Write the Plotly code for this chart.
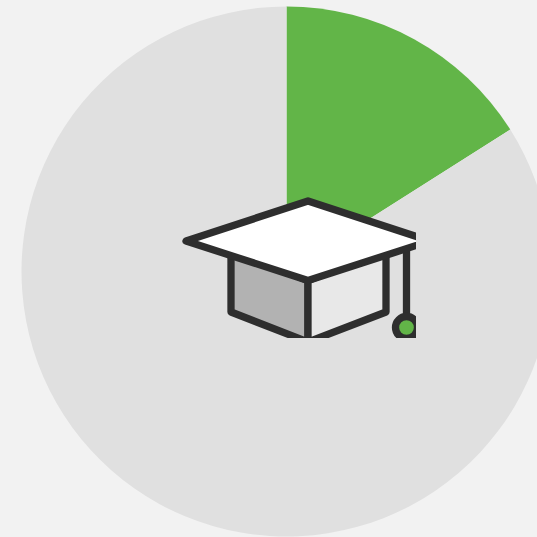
import plotly.graph_objects as go

# Share shown in the ring of the pie
labels = ["Highlighted", "Remaining"]
values = [16, 84]
slice_colors = ["#62b548", "#e0e0e0"]

PAGE_BG = "#f2f2f2"
INK = "#2e2e2e"
STROKE = 7.3
WIDTH, HEIGHT = 552, 537
ICON_W, ICON_H = 416, 338


def poly(points, fill=None, close=True):
    d = "M" + " L".join(f"{x},{y}" for x, y in points) + (" Z" if close else "")
    return dict(
        type="path", xref="x", yref="y", layer="above", path=d,
        fillcolor=fill if fill else "rgba(0,0,0,0)",
        line=dict(color=INK, width=STROKE),
    )


# Graduation cap, in icon units on a hidden pair of axes that clip its edges
left_face = [(231, 250), (308, 280.5), (308, 342), (231, 312)]
right_face = [(386, 250), (308, 280.5), (308, 342), (386, 312)]
board = [(186, 241), (308, 201), (430, 241), (308, 280.5)]
tassel = [(406.5, 240), (406.5, 320)]

shapes = [
    poly(left_face, "#b2b2b2"),
    poly(right_face, "#e8e8e8"),
    poly(tassel, close=False),
    poly(board, "#ffffff"),
    dict(type="circle", xref="x", yref="y", layer="above",
         x0=395.5, x1=417.5, y0=316.5, y1=338.5,
         fillcolor=slice_colors[0], line=dict(color=INK, width=STROKE)),
]

fig = go.Figure()
fig.add_trace(go.Pie(
    labels=labels, values=values, sort=False, direction="clockwise", rotation=0,
    marker=dict(colors=slice_colors, line=dict(width=0)),
    textinfo="none", hoverinfo="skip", showlegend=False,
    domain=dict(x=[21.5 / WIDTH, 551.5 / WIDTH], y=[0.5 / HEIGHT, 530.5 / HEIGHT]),
))
# Invisible trace so the hidden axes exist for the icon shapes
fig.add_trace(go.Scatter(x=[0], y=[0], mode="markers", opacity=0,
                         hoverinfo="skip", showlegend=False))

axis = dict(visible=False, showgrid=False, zeroline=False, fixedrange=True)
fig.update_layout(
    width=WIDTH, height=HEIGHT, autosize=False,
    margin=dict(l=0, r=0, t=0, b=0),
    paper_bgcolor=PAGE_BG, plot_bgcolor="rgba(0,0,0,0)",
    xaxis=dict(axis, domain=[0, ICON_W / WIDTH], range=[0, ICON_W]),
    yaxis=dict(axis, domain=[1 - ICON_H / HEIGHT, 1], range=[ICON_H, 0]),
    shapes=shapes,
)

# Crop the overflow at the window edge and round the stroke corners of the icon
page_script = """
document.documentElement.style.overflow = 'hidden';
document.body.style.overflow = 'hidden';
document.body.style.margin = '0';
document.querySelectorAll('.shapelayer path').forEach(function (p) {
  p.style.strokeLinejoin = 'round';
  p.style.strokeLinecap = 'round';
});
"""
fig.write_html("out.html", config={"displayModeBar": False}, post_script=page_script)
